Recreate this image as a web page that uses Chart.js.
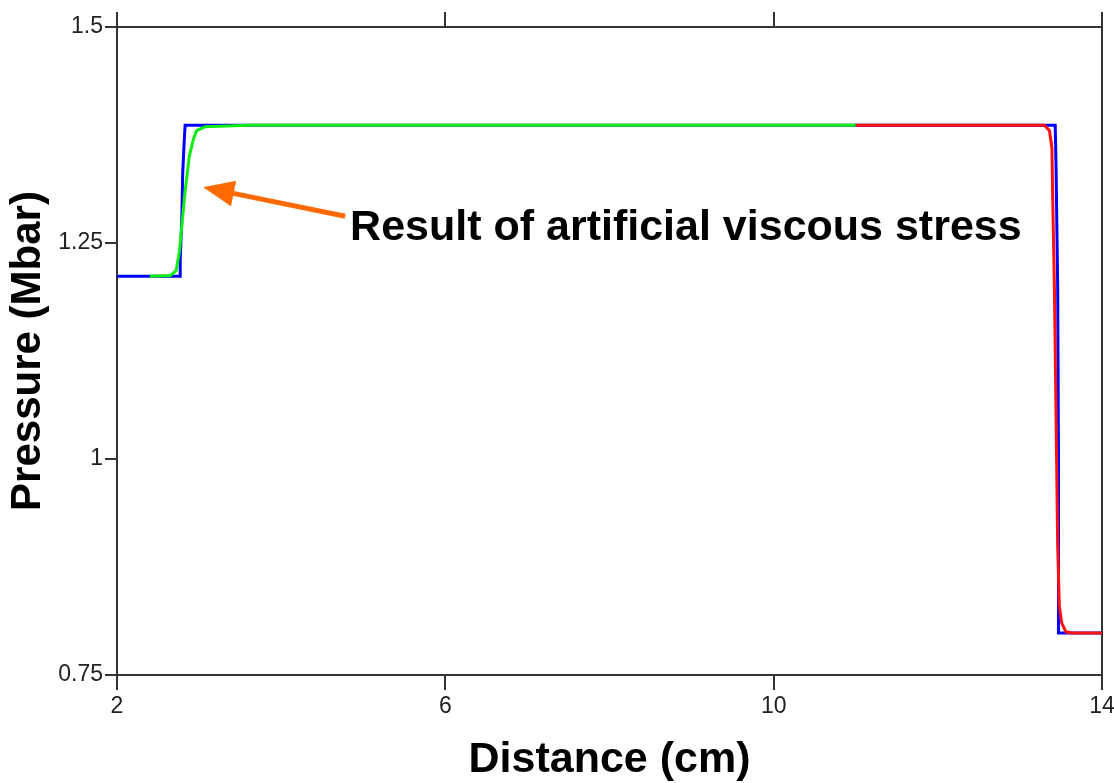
<!DOCTYPE html>
<html>
<head>
<meta charset="utf-8">
<script src="https://cdn.jsdelivr.net/npm/chart.js@4.4.1/dist/chart.umd.min.js"></script>
<style>
  html, body { margin: 0; padding: 0; background: #fff; }
  #wrap { width: 1114px; height: 783px; position: relative; }
</style>
</head>
<body>
<div id="wrap"><canvas id="chartPressure"></canvas></div>
<script>
// exact (blue) solution
let blueX = [2, 2.77, 2.77, 2.79, 2.80, 2.82, 2.83, 13.43, 13.44, 13.46, 13.47, 13.47, 14];
let blueY = [1.2114, 1.2114, 1.23, 1.28, 1.33, 1.37, 1.3864, 1.3864, 1.34, 1.20, 1.00, 0.7987, 0.7987];

// computed, left part (green)
let greenX = [2.4, 2.65, 2.72, 2.76, 2.79, 2.83, 2.88, 2.93, 2.97, 3.07, 3.6, 11.0];
let greenY = [1.2114, 1.2125, 1.218, 1.24, 1.27, 1.31, 1.35, 1.37, 1.38, 1.3845, 1.3864, 1.3864];

// computed, right part (red)
let redX = [11.0, 13.30, 13.36, 13.39, 13.40, 13.42, 13.44, 13.46, 13.48, 13.51, 13.56, 13.63, 14];
let redY = [1.3864, 1.3864, 1.38, 1.36, 1.30, 1.20, 1.05, 0.90, 0.83, 0.81, 0.80, 0.7987, 0.7987];

let xTicks = [2, 6, 10, 14];
let yTicks = [0.75, 1, 1.25, 1.5];

let noteText = "Result of artificial viscous stress";
// annotation anchors in data units
let noteAt = {x: 4.84, y: 1.253};
let arrowFrom = {x: 4.78, y: 1.281};
let arrowTo = {x: 3.05, y: 1.3145};

const toPoints = (xs, ys) => xs.map((x, i) => ({x: x, y: ys[i]}));

const axisColor = "#333";
const fixedTicks = (vals) => (axis) => { axis.ticks = vals.map(v => ({value: v})); };

const notePlugin = {
    id: "note",
    afterDatasetsDraw(chart) {
        let ctx = chart.ctx;
        let sx = chart.scales.x, sy = chart.scales.y;
        let x0 = sx.getPixelForValue(arrowFrom.x), y0 = sy.getPixelForValue(arrowFrom.y);
        let x1 = sx.getPixelForValue(arrowTo.x), y1 = sy.getPixelForValue(arrowTo.y);
        let ang = Math.atan2(y1 - y0, x1 - x0);
        let headLen = 31, headHalf = 13;
        let bx = x1 - headLen * Math.cos(ang), by = y1 - headLen * Math.sin(ang);

        ctx.save();
        ctx.strokeStyle = "#ff6a00";
        ctx.fillStyle = "#ff6a00";
        ctx.lineWidth = 5;
        ctx.beginPath();
        ctx.moveTo(x0, y0);
        ctx.lineTo(bx + 4 * Math.cos(ang), by + 4 * Math.sin(ang));
        ctx.stroke();
        ctx.beginPath();
        ctx.moveTo(x1, y1);
        ctx.lineTo(bx + headHalf * Math.sin(ang), by - headHalf * Math.cos(ang));
        ctx.lineTo(bx - headHalf * Math.sin(ang), by + headHalf * Math.cos(ang));
        ctx.closePath();
        ctx.fill();

        ctx.fillStyle = "#000";
        ctx.font = "bold 43px 'Liberation Sans', Arial, sans-serif";
        ctx.textAlign = "left";
        ctx.textBaseline = "alphabetic";
        ctx.fillText(noteText, sx.getPixelForValue(noteAt.x), sy.getPixelForValue(noteAt.y));
        ctx.restore();
    }
};

let chartElement = document.querySelector("#chartPressure").getContext("2d");
new Chart(chartElement, {
    type: "scatter",
    data: {
        datasets: [{
            label: "exact",
            data: toPoints(blueX, blueY),
            showLine: true,
            borderColor: "#0000ff",
            borderWidth: 3,
            pointRadius: 0,
            order: 3
        }, {
            label: "left",
            data: toPoints(greenX, greenY),
            showLine: true,
            borderColor: "#11ee11",
            borderWidth: 3,
            pointRadius: 0,
            order: 2
        }, {
            label: "right",
            data: toPoints(redX, redY),
            showLine: true,
            borderColor: "#ff1111",
            borderWidth: 3,
            pointRadius: 0,
            order: 1
        }]
    },
    options: {
        responsive: true,
        maintainAspectRatio: false,
        animation: false,
        layout: {padding: {left: 0, right: 12, top: 0, bottom: 0}},
        plugins: {legend: {display: false}, tooltip: {enabled: false}},
        scales: {
            x: {
                type: "linear",
                position: "bottom",
                min: 2, max: 14,
                afterBuildTicks: fixedTicks(xTicks),
                afterFit: (axis) => { axis.height = 108; axis.paddingLeft = 0; axis.paddingRight = 0; },
                border: {display: true, color: axisColor, width: 2},
                grid: {drawOnChartArea: false, drawTicks: true, tickLength: 15, color: axisColor, lineWidth: 2},
                ticks: {
                    color: "#222",
                    padding: 3,
                    maxRotation: 0,
                    font: {family: "'Liberation Sans', Arial, sans-serif", size: 23},
                    callback: (v) => String(v)
                },
                title: {
                    display: true,
                    text: "Distance (cm)",
                    color: "#000",
                    padding: {top: 0, bottom: 1},
                    font: {family: "'Liberation Sans', Arial, sans-serif", size: 43, weight: "bold", lineHeight: 1}
                }
            },
            xTop: {
                type: "linear",
                position: "top",
                min: 2, max: 14,
                afterBuildTicks: fixedTicks(xTicks),
                afterFit: (axis) => { axis.height = 27; axis.paddingLeft = 0; axis.paddingRight = 0; },
                border: {display: true, color: axisColor, width: 2},
                grid: {drawOnChartArea: false, drawTicks: true, tickLength: 15, color: axisColor, lineWidth: 2},
                ticks: {display: false}
            },
            y: {
                type: "linear",
                position: "left",
                min: 0.75, max: 1.5,
                afterBuildTicks: fixedTicks(yTicks),
                afterFit: (axis) => { axis.width = 117; axis.paddingTop = 0; axis.paddingBottom = 0; },
                border: {display: true, color: axisColor, width: 2},
                grid: {drawOnChartArea: false, drawTicks: true, tickLength: 12, color: axisColor, lineWidth: 2},
                ticks: {
                    color: "#222",
                    padding: 2,
                    font: {family: "'Liberation Sans', Arial, sans-serif", size: 23},
                    callback: (v) => String(v)
                },
                title: {
                    display: true,
                    text: "Pressure (Mbar)",
                    color: "#000",
                    padding: {top: 7, bottom: 0},
                    font: {family: "'Liberation Sans', Arial, sans-serif", size: 42, weight: "bold", lineHeight: 1}
                }
            },
            yRight: {
                type: "linear",
                position: "right",
                min: 0.75, max: 1.5,
                afterFit: (axis) => { axis.width = 0; },
                border: {display: true, color: axisColor, width: 2},
                grid: {drawOnChartArea: false, drawTicks: false},
                ticks: {display: false}
            }
        }
    },
    plugins: [notePlugin]
});
</script>
</body>
</html>
